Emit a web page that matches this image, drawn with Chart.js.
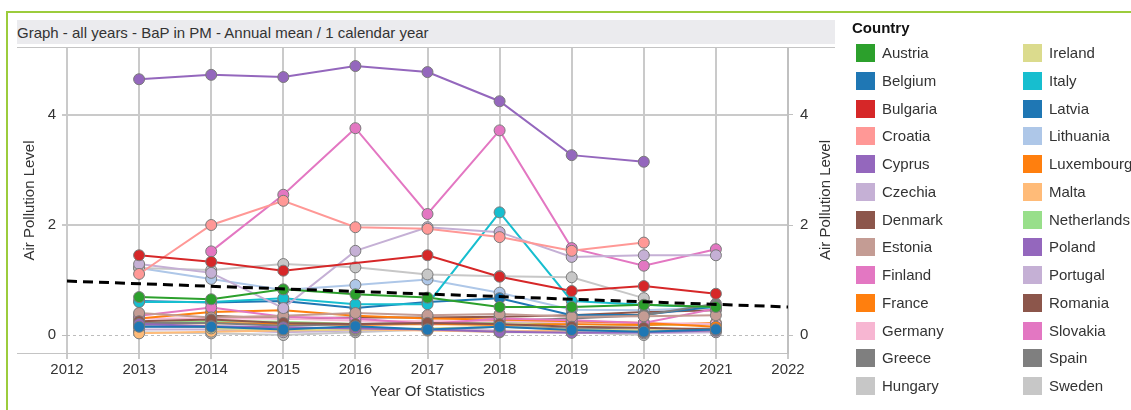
<!DOCTYPE html>
<html>
<head>
<meta charset="utf-8">
<script src="https://cdn.jsdelivr.net/npm/chart.js@4"></script>
<style>
html,body{margin:0;padding:0;background:#fff;width:1131px;height:410px;overflow:hidden;font-family:"Liberation Sans",Arial,sans-serif;}
#frame{position:absolute;left:6px;top:11px;width:1200px;height:500px;border-left:2px solid #9ccc3c;border-top:2px solid #9ccc3c;}
#titlebar{position:absolute;left:17px;top:20px;width:818px;height:24px;background:#ebebee;color:#333;font-size:15px;line-height:25px;white-space:nowrap;}
#wrap{position:absolute;left:0;top:0;width:845px;height:410px;}
.hl{position:absolute;height:1px;background:#c4c4c4;}
#rtitle{position:absolute;left:725px;top:191px;width:200px;height:18px;line-height:18px;text-align:center;font-size:15px;color:#333;transform:rotate(-90deg);transform-origin:100px 9px;white-space:nowrap;}
#legend{position:absolute;left:0;top:0;width:1131px;height:410px;pointer-events:none;}
.lgtitle{position:absolute;left:852px;top:19px;font-size:15px;font-weight:bold;color:#111;line-height:18px;}
.sw{position:absolute;width:19px;height:18px;}
.lt{position:absolute;font-size:15px;color:#333;line-height:18px;white-space:nowrap;}
</style>
</head>
<body>
<div id="frame"></div>
<div id="titlebar">Graph - all years - BaP in PM - Annual mean / 1 calendar year</div>
<div id="wrap"><canvas id="c" width="845" height="410"></canvas></div>
<div class="hl" style="left:17px;top:47px;width:818px;"></div>
<div class="hl" style="left:17px;top:353px;width:50px;"></div>
<div id="rtitle">Air Pollution Level</div>
<div id="legend"><div class="lgtitle">Country</div></div>
<script>
// ---- data ----
const years = [2013, 2014, 2015, 2016, 2017, 2018, 2019, 2020, 2021];
const xTicks = [2012, 2013, 2014, 2015, 2016, 2017, 2018, 2019, 2020, 2021, 2022];
const yTicks = [0, 2, 4];

const countries = ["Austria","Belgium","Bulgaria","Croatia","Cyprus","Czechia","Denmark","Estonia","Finland","France","Germany","Greece","Hungary","Ireland","Italy","Latvia","Lithuania","Luxembourg","Malta","Netherlands","Poland","Portugal","Romania","Slovakia","Spain","Sweden"];
const colors = ["#2ca02c","#1f77b4","#d62728","#ff9896","#9467bd","#c5b0d5","#8c564b","#c49c94","#e377c2","#ff7f0e","#f7b6d2","#7f7f7f","#c7c7c7","#dbdb8d","#17becf","#1f77b4","#aec7e8","#ff7f0e","#ffbb78","#98df8a","#9467bd","#c5b0d5","#8c564b","#e377c2","#7f7f7f","#c7c7c7"];

const austria     = [0.69,0.65,0.83,0.74,0.68,0.51,0.51,0.55,0.51];
const belgium     = [0.15,0.15,0.10,0.16,0.10,0.15,0.09,0.06,0.10];
const bulgaria    = [1.45,1.33,1.17,null,1.45,1.06,0.80,0.89,0.75];
const croatia     = [1.11,2.00,2.44,1.96,1.93,1.78,1.53,1.68,null];
const cyprus      = [0.20,0.16,0.14,0.12,0.10,0.06,0.04,0.05,0.08];
const czechia     = [1.29,1.13,0.49,1.53,1.96,1.87,1.42,1.45,1.45];
const denmark     = [0.25,0.28,0.22,0.20,0.22,0.20,0.15,0.13,0.10];
const estonia     = [0.40,0.32,0.35,0.40,0.36,0.38,0.33,0.34,0.36];
const finland     = [0.35,0.50,0.33,0.30,0.20,0.30,0.27,0.22,0.48];
const france      = [0.30,0.42,0.45,0.35,0.30,0.28,0.25,0.22,0.15];
const germany     = [0.30,0.30,0.30,0.26,0.25,0.25,0.23,0.22,0.20];
const greece      = [0.22,0.22,0.17,0.20,0.22,0.26,0.30,0.36,0.57];
const hungary     = [1.22,1.18,1.29,1.23,1.10,1.07,1.05,0.67,null];
const ireland     = [null,0.12,0.10,0.10,0.12,0.15,0.10,0.08,0.08];
const italy       = [0.60,0.60,0.67,0.56,0.56,2.23,0.62,0.55,0.50];
const latvia      = [0.62,0.59,0.62,0.49,0.60,0.67,0.36,0.37,0.52];
const lithuania   = [1.22,1.02,0.82,0.91,1.01,0.77,0.46,0.45,0.50];
const luxembourg  = [0.20,0.22,0.20,0.18,0.20,0.18,0.20,0.18,0.22];
const malta       = [0.03,0.06,0.08,0.10,0.08,0.06,0.08,0.10,0.10];
const netherlands = [0.22,0.25,0.24,0.20,0.20,0.24,0.20,0.18,0.20];
const poland      = [4.65,4.73,4.69,4.89,4.78,4.25,3.27,3.15,null];
const portugal    = [0.10,0.10,0.05,0.08,0.10,0.08,0.05,0.03,0.05];
const romania     = [null,0.35,0.30,0.32,0.32,0.33,0.36,0.42,0.45];
const slovakia    = [null,1.52,2.55,3.76,2.20,3.72,1.58,1.26,1.56];
const spain       = [0.16,0.15,0.12,0.13,0.10,0.15,0.12,0.10,0.12];
const sweden      = [0.05,0.03,0.00,0.05,0.10,0.05,0.05,0.00,null];

const seriesValues = [austria,belgium,bulgaria,croatia,cyprus,czechia,denmark,estonia,finland,france,germany,greece,hungary,ireland,italy,latvia,lithuania,luxembourg,malta,netherlands,poland,portugal,romania,slovakia,spain,sweden];

const trendX = [2012, 2022];
const trendY = [0.98, 0.51];

// ---- chart ----
const FONT = "'Liberation Sans', Arial, sans-serif";
Chart.defaults.font.family = FONT;
Chart.defaults.font.size = 15;
Chart.defaults.color = '#333';

const datasets = countries.map((name, i) => ({
  label: name,
  data: years.map((yr, j) => ({x: yr, y: seriesValues[i][j]})),
  borderColor: colors[i],
  backgroundColor: colors[i],
  pointBackgroundColor: colors[i],
  pointBorderColor: '#7a7a7a',
  pointBorderWidth: 1,
  pointRadius: 5.5,
  borderWidth: 2,
  spanGaps: true,
  order: 1
}));
datasets.push({
  label: 'trend',
  data: trendX.map((x, i) => ({x: x, y: trendY[i]})),
  borderColor: '#000',
  borderWidth: 3,
  borderDash: [10, 6],
  pointRadius: 0,
  order: 0
});

const yMin = -0.327, yMax = 5.218;
const gridCol = ctx => (ctx.tick && ctx.tick.value === 0) ? '#bcbcbc' : '#cacaca';
const gridW = ctx => (ctx.tick && ctx.tick.value === 0) ? 1 : 2;

new Chart(document.getElementById('c'), {
  type: 'line',
  data: {datasets},
  options: {
    responsive: false,
    animation: false,
    layout: {padding: {left: 17, right: 8, top: 48, bottom: 7}},
    plugins: {legend: {display: false}, tooltip: {enabled: false}},
    scales: {
      x: {
        type: 'linear', min: 2012, max: 2022,
        afterBuildTicks: s => { s.ticks = xTicks.map(v => ({value: v})); },
        afterFit: s => { s.height = 50; },
        grid: {color: '#cacaca', lineWidth: 2, tickLength: 6, drawTicks: true},
        border: {display: true, color: '#c0c0c0', width: 1},
        ticks: {color: '#333', padding: 2, maxRotation: 0, callback: v => String(v)},
        title: {display: true, text: 'Year Of Statistics', color: '#333', padding: {top: 0, bottom: 2}}
      },
      y: {
        position: 'left', min: yMin, max: yMax,
        afterBuildTicks: s => { s.ticks = yTicks.map(v => ({value: v})); },
        afterFit: s => { s.width = 50; },
        grid: {color: gridCol, lineWidth: gridW, tickLength: 5, drawTicks: true},
        border: {display: false, dash: ctx => (ctx.tick && ctx.tick.value === 0) ? [3, 3] : []},
        ticks: {color: '#333', padding: 6},
        title: {display: true, text: 'Air Pollution Level', color: '#333', padding: {top: 4, bottom: 0}}
      },
      y2: {
        position: 'right', min: yMin, max: yMax,
        afterBuildTicks: s => { s.ticks = yTicks.map(v => ({value: v})); },
        afterFit: s => { s.width = 49; },
        grid: {drawOnChartArea: false, color: '#c0c0c0', lineWidth: 1, tickLength: 5},
        border: {display: true, color: '#c0c0c0', width: 2},
        ticks: {color: '#333', padding: 7},
        title: {display: false}
      }
    }
  }
});

// ---- HTML legend built from the same arrays ----
const lg = document.getElementById('legend');
countries.forEach((name, i) => {
  const col = Math.floor(i / 13), row = i % 13;
  const left = col === 0 ? 856 : 1023;
  const top = Math.round(44 + row * 27.75);
  const sw = document.createElement('div');
  sw.className = 'sw';
  sw.style.left = left + 'px';
  sw.style.top = top + 'px';
  sw.style.background = colors[i];
  lg.appendChild(sw);
  const t = document.createElement('div');
  t.className = 'lt';
  t.style.left = (left + 26) + 'px';
  t.style.top = top + 'px';
  t.textContent = name;
  lg.appendChild(t);
});
</script>
</body>
</html>
